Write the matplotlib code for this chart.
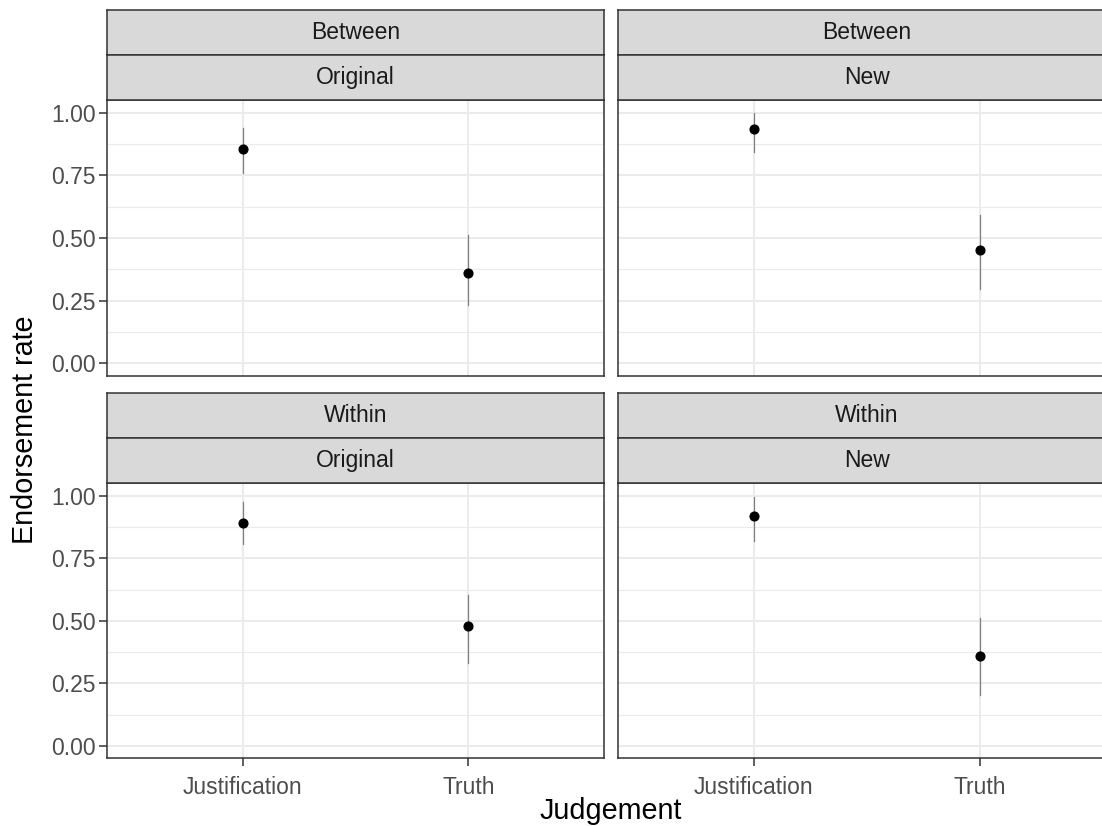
import matplotlib
matplotlib.use("Agg")
import matplotlib.pyplot as plt

plt.rcParams['font.family'] = ['Liberation Sans', 'DejaVu Sans']

# data
judgements = ["Justification", "Truth"]
design = ["Between", "Between", "Within", "Within"]
stimuli = ["Original", "New", "Original", "New"]
rate = [[0.856, 0.359], [0.933, 0.453], [0.893, 0.478], [0.921, 0.359]]
lower = [[0.758, 0.231], [0.844, 0.295], [0.809, 0.333], [0.818, 0.205]]
upper = [[0.940, 0.512], [1.000, 0.592], [0.977, 0.603], [0.997, 0.511]]
y_ticks = [0.00, 0.25, 0.50, 0.75, 1.00]
y_ticklabels = ["0.00", "0.25", "0.50", "0.75", "1.00"]

W, H = 1102, 826
fig = plt.figure(figsize=(W / 100, H / 100), dpi=100)

DARK = "#333333"
GRID = "#EBEBEB"
TICKC = "#4D4D4D"

# panel boxes in pixel coords (left, right, top, bottom)
cols = [(107.3, 603.7), (618.3, 1115.0)]
rows = [(100.0, 376.0), (483.3, 758.3)]
strip_h = 45.0


def px_axes(x0, x1, y0, y1):
    return fig.add_axes([x0 / W, 1 - y1 / H, (x1 - x0) / W, (y1 - y0) / H])


for i in range(4):
    r, c = divmod(i, 2)
    x0, x1 = cols[c]
    y0, y1 = rows[r]
    ax = px_axes(x0, x1, y0, y1)
    ax.set_xlim(0.4, 2.6)
    ax.set_ylim(-0.05, 1.05)
    ax.set_yticks(y_ticks)
    ax.set_yticks([0.125, 0.375, 0.625, 0.875], minor=True)
    ax.set_xticks([1, 2])
    ax.grid(True, which="major", color=GRID, linewidth=1.5, zorder=0)
    ax.grid(True, which="minor", axis="y", color=GRID, linewidth=0.8, zorder=0)
    ax.set_axisbelow(True)
    for sp in ax.spines.values():
        sp.set_color(DARK)
        sp.set_linewidth(1.1)
    ax.tick_params(which="minor", length=0)
    ax.tick_params(which="major", length=5.5, width=1.1, color=DARK,
                   labelsize=16.5, labelcolor=TICKC, pad=3)
    ax.tick_params(axis="x", pad=7)
    if c == 0:
        ax.set_yticklabels(y_ticklabels)
    else:
        ax.tick_params(axis="y", which="both", length=0, labelleft=False)
    if r == 1:
        ax.set_xticklabels(judgements)
    else:
        ax.tick_params(axis="x", which="both", length=0, labelbottom=False)

    xs = [1, 2]
    for k in range(2):
        ax.plot([xs[k], xs[k]], [lower[i][k], upper[i][k]], color="#7F7F7F",
                linewidth=0.9, zorder=3)
    ax.plot(xs, rate[i], "o", color="black", markersize=6.3, zorder=4)

    # two stacked strips
    for s, label in enumerate([design[i], stimuli[i]]):
        sy0 = y0 - 2 * strip_h + s * strip_h
        sax = px_axes(x0, x1, sy0, sy0 + strip_h)
        sax.set_facecolor("#D9D9D9")
        sax.set_xticks([])
        sax.set_yticks([])
        for sp in sax.spines.values():
            sp.set_color(DARK)
            sp.set_linewidth(1.1)
        sax.text(0.5, 0.5, label, ha="center", va="center", fontsize=16.5,
                 color="#1A1A1A", transform=sax.transAxes)

fig.text(611 / W, 1 - 811 / H, "Judgement", ha="center", va="center",
         fontsize=20.7, color="black")
fig.text(25 / W, 1 - 430 / H, "Endorsement rate", ha="center", va="center",
         rotation=90, fontsize=20.7, color="black")

fig.savefig("out.png", dpi=100, facecolor="white")
